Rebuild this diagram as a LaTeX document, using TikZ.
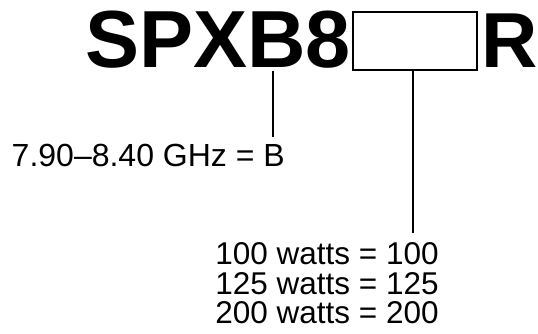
\documentclass[tikz,border=0pt]{standalone}
\usepackage{fontspec}
\setmainfont{Liberation Sans}
\begin{document}
\begin{tikzpicture}[x=1pt,y=-1pt,
  title/.style={inner sep=0pt,anchor=base west,font=\fontsize{81}{81}\selectfont\bfseries},
  label/.style={inner xsep=0pt,inner ysep=7pt,font=\fontsize{32}{30}\selectfont},
  leader/.style={line width=1.3pt},
  slot/.style={draw,line width=2pt,inner sep=0pt,minimum width=124pt,minimum height=58pt}]
\useasboundingbox (0,0) rectangle (538,334);
\node[title] (pre) at (85,68) {SPXB8};
\node[slot] (box) at (415,41) {};
\node[title,font=\fontsize{78}{78}\selectfont\bfseries] (suf) at (481.5,68) {R};
\coordinate (bB) at (273,71);
\coordinate (bx) at (413,71);
\node[label,anchor=base east] (freq) at (285,167) {7.90–8.40 GHz = B};
\node[label,anchor=north,align=center,inner ysep=9.4pt,font=\fontsize{31.5}{29.7}\selectfont] (power) at (327,233) {100 watts = 100\\125 watts = 125\\200 watts = 200};
\draw[leader] (bB) -- (bB |- freq.north);
\draw[leader] (bx) -- (bx |- power.north);
\end{tikzpicture}
\end{document}
